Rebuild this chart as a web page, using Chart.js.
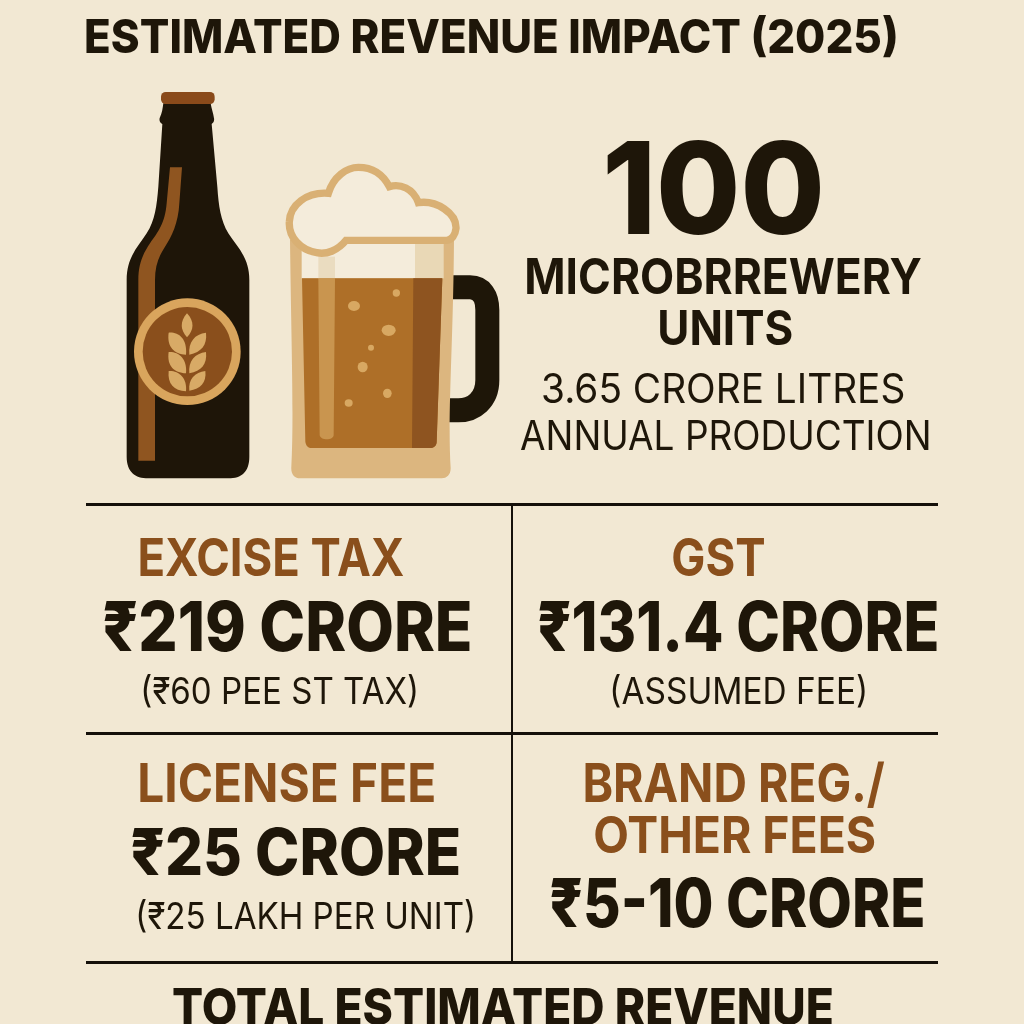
<!DOCTYPE html>
<html>
<head>
<meta charset="utf-8">
<title>Estimated Revenue Impact (2025)</title>
<script src="https://cdn.jsdelivr.net/npm/chart.js@4"></script>
<style>
  html, body { margin: 0; height: 100%; background: #f2e8d3; overflow: hidden; }
  #art { position: absolute; left: 100px; top: 80px; width: 420px; height: 410px; }
  #board { position: absolute; left: 0; top: 0; }
</style>
</head>
<body>
<svg id="art" viewBox="0 0 1260 1230">
  <!-- bottle -->
  <path fill="#1e1508" d="M190,70 L332,70 C334,85 340,100 342,115 C344,125 338,130 335,132 L352,320 C356,380 362,420 385,460 C410,500 448,530 448,600 L448,1130 C448,1175 425,1195 385,1195 L145,1195 C105,1195 80,1175 80,1130 L80,600 C80,530 115,500 140,460 C165,420 170,380 175,320 L187,132 C180,130 176,120 180,112 C186,100 188,85 190,70 Z"/>
  <rect x="183" y="36" width="161" height="36" rx="14" fill="#8a4a1a"/>
  <path fill="#8f5520" d="M210,262 L246,262 L238,370 C235,430 215,470 195,500 C175,530 165,560 165,600 L165,1142 L115,1142 L115,600 C115,550 130,520 150,490 C175,455 195,430 200,370 Z"/>
  <circle cx="262" cy="815" r="160" fill="#d9a55d"/>
  <circle cx="262" cy="815" r="134" fill="#8a4f1c"/>
  <g fill="#d8aa66">
    <path d="M261,700 C284,725 282,750 261,772 C241,750 239,725 261,700 Z"/>
    <path d="M206,758 C235,756 262,775 258,824 C222,822 200,800 206,758 Z"/>
    <path d="M318,758 C285,762 264,785 268,824 C304,816 322,795 318,758 Z"/>
    <path d="M206,816 C235,814 262,835 258,880 C222,878 200,858 206,816 Z"/>
    <path d="M318,816 C285,820 264,843 268,880 C304,873 322,853 318,816 Z"/>
    <path d="M206,873 C235,871 262,892 258,934 C222,932 202,912 206,873 Z"/>
    <path d="M316,873 C285,877 264,898 268,932 C302,926 320,908 316,873 Z"/>
  </g>
  <!-- mug handle -->
  <path fill="none" stroke="#1e1608" stroke-width="72" d="M1050,622 L1110,622 C1145,622 1162,650 1162,690 L1162,900 C1162,960 1120,991 1075,991 L1040,991"/>
  <!-- mug glass -->
  <path fill="#dcb67f" d="M570,480 L1062,470 C1060,800 1042,1000 1052,1165 C1052,1185 1040,1195 1025,1195 L600,1195 C585,1195 572,1185 574,1160 C582,1000 574,800 570,480 Z"/>
  <rect x="605" y="490" width="425" height="105" fill="#f4ecdb"/>
  <rect x="945" y="490" width="85" height="105" fill="#e9d8b6"/>
  <path fill="#ae6f28" d="M606,595 L1027,595 L1010,1085 C1010,1098 1000,1104 990,1104 L635,1104 C625,1104 618,1098 616,1085 Z"/>
  <path fill="#8e5420" d="M940,595 L1027,595 L1010,1085 C1010,1098 1000,1104 990,1104 L936,1104 Z"/>
  <rect x="655" y="530" width="50" height="65" fill="#eadcc0"/>
  <path fill="#c9954f" d="M655,595 L705,595 L701,1065 C701,1082 660,1082 659,1065 Z"/>
  <g fill="#d8a862">
    <ellipse cx="762" cy="678" rx="18" ry="15"/>
    <ellipse cx="889" cy="639" rx="11" ry="11"/>
    <ellipse cx="866" cy="751" rx="21" ry="17"/>
    <ellipse cx="813" cy="803" rx="9" ry="9"/>
    <ellipse cx="788" cy="861" rx="15" ry="16"/>
    <ellipse cx="862" cy="940" rx="13" ry="14"/>
    <ellipse cx="746" cy="969" rx="12" ry="11"/>
  </g>
  <!-- foam -->
  <path fill="#f4ecdb" stroke="#d9b074" stroke-width="22" d="M685,340 C700,290 740,262 775,262 C820,262 850,285 868,320 C900,310 940,325 955,368 C1010,360 1070,400 1068,445 C1066,465 1055,480 1040,481 L738,481 C715,510 680,525 650,518 C600,510 565,470 568,425 C570,375 620,335 685,340 Z"/>
</svg>
<canvas id="board" width="1024" height="1024"></canvas>
<script>
const headline = 'ESTIMATED REVENUE IMPACT (2025)';
const unitCount = '100';
const unitLines = ['MICROBRREWERY', 'UNITS'];
const productionLines = ['3.65 CRORE LITRES', 'ANNUAL PRODUCTION'];
const footerLabel = 'TOTAL ESTIMATED REVENUE';

const cellColumns = [0, 1, 0, 1];
const cellRows = [0, 0, 1, 1];
const cellTitles = [['EXCISE TAX'], ['GST'], ['LICENSE FEE'], ['BRAND REG./', 'OTHER FEES']];
const cellAmounts = ['₹219 CRORE', '₹131.4 CRORE', '₹25 CRORE', '₹5-10 CRORE'];
const cellNotes = ['(₹60 PEE ST TAX)', '(ASSUMED FEE)', '(₹25 LAKH PER UNIT)', ''];

const INK = '#1e1609';
const BROWN = '#8a4f1c';
const FONT = 'Inter, Roboto, "Noto Sans", sans-serif';

// fit a string into a box: cap height sets the size, width is squeezed to left..right
function fitText(ctx, text, left, right, top, bottom, weight, color) {
    ctx.save();
    ctx.font = `${weight} 100px ${FONT}`;
    const capRatio = ctx.measureText('H').actualBoundingBoxAscent / 100;
    const size = (bottom - top) / capRatio;
    ctx.font = `${weight} ${size}px ${FONT}`;
    const m = ctx.measureText(text);
    const inkLeft = -m.actualBoundingBoxLeft;
    const inkWidth = m.actualBoundingBoxRight + m.actualBoundingBoxLeft;
    ctx.translate(left, bottom);
    ctx.scale((right - left) / inkWidth, 1);
    ctx.fillStyle = color;
    ctx.textAlign = 'left';
    ctx.textBaseline = 'alphabetic';
    ctx.fillText(text, -inkLeft, 0);
    ctx.restore();
}

// text boxes around each cell's centre point: [left, right, top, bottom]
const titleBoxes = [
    [[-159, 105, -80.5, -42.5]],
    [[-52, 39, -80.5, -42.5]],
    [[-159, 135, -84.5, -45.5]],
    [[-140, 160, -84.5, -45.5], [-130, 150, -31.5, 5.5]]
];
const amountBoxes = [
    [-195, 171, -17.5, 32.5],
    [-186, 212, -17.5, 32.5],
    [-167, 160, -19.5, 27.5],
    [-174, 198, 30.5, 79.5]
];
const noteBoxes = [
    [-156, 117, 58.5, 85.5],
    [-113, 140, 58.5, 85.5],
    [-161, 174, 54.5, 81.5],
    null
];

const posterText = {
    id: 'posterText',
    afterDraw(chart) {
        const ctx = chart.ctx;
        fitText(ctx, headline, 86, 896, 19, 53, 800, INK);
        fitText(ctx, unitCount, 607, 820, 141, 234, 800, INK);
        fitText(ctx, unitLines[0], 527, 921, 258, 294, 700, INK);
        fitText(ctx, unitLines[1], 660, 792, 310, 345, 700, INK);
        fitText(ctx, productionLines[0], 543, 904, 373, 403, 400, INK);
        fitText(ctx, productionLines[1], 521, 929, 420, 450, 400, INK);
        fitText(ctx, footerLabel, 173, 832, 988, 1025, 800, INK);

        const put = (text, box, pt, weight, color) =>
            fitText(ctx, text, pt.x + box[0], pt.x + box[1], pt.y + box[2], pt.y + box[3], weight, color);

        chart.getDatasetMeta(0).data.forEach((pt, i) => {
            cellTitles[i].forEach((line, j) => put(line, titleBoxes[i][j], pt, 700, BROWN));
            put(cellAmounts[i], amountBoxes[i], pt, 800, INK);
            if (cellNotes[i]) put(cellNotes[i], noteBoxes[i], pt, 400, INK);
        });
    }
};

new Chart(document.getElementById('board').getContext('2d'), {
    type: 'scatter',
    data: {
        datasets: [{
            data: cellColumns.map((c, i) => ({ x: c + 0.5, y: cellRows[i] + 0.5 })),
            pointRadius: 0
        }]
    },
    options: {
        responsive: false,
        devicePixelRatio: 1,
        animation: false,
        layout: { padding: { left: 86, right: 86, top: 504, bottom: 62 } },
        plugins: { legend: { display: false }, title: { display: false }, tooltip: { enabled: false } },
        scales: {
            x: {
                min: 0,
                max: 2,
                ticks: { display: false, stepSize: 1 },
                border: { display: false },
                grid: {
                    drawTicks: false,
                    lineWidth: 2,
                    color: c => (c.tick && c.tick.value === 1 ? '#15100a' : 'rgba(0,0,0,0)')
                }
            },
            y: {
                min: 0,
                max: 2,
                reverse: true,
                ticks: { display: false, stepSize: 1 },
                border: { display: false },
                grid: { drawTicks: false, lineWidth: 3, color: '#15100a' }
            }
        }
    },
    plugins: [posterText]
});
</script>
</body>
</html>
